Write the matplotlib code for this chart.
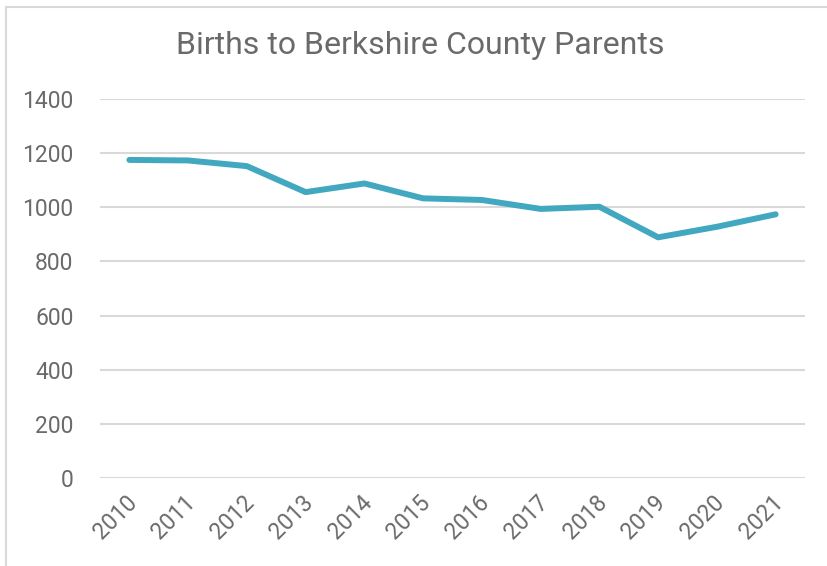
import matplotlib
matplotlib.use('Agg')
import matplotlib.pyplot as plt
from matplotlib.patches import Rectangle

# data
years = ['2010', '2011', '2012', '2013', '2014', '2015',
         '2016', '2017', '2018', '2019', '2020', '2021']
births = [1175, 1173, 1152, 1056, 1088, 1033, 1027, 994, 1002, 889, 928, 974]

plt.rcParams['font.family'] = ['Roboto', 'DejaVu Sans']
txt = '#6a6a6a'
grid = '#d9d9d9'

fig = plt.figure(figsize=(8.27, 5.66), dpi=100)
ax = fig.add_axes([100 / 827, 1 - 478 / 566, 705 / 827, 379 / 566])

x = list(range(len(years)))
ax.plot(x, births, color='#41a8c0', lw=4.3, solid_capstyle='round',
        solid_joinstyle='round', zorder=3)

ax.set_xlim(-0.5, len(years) - 0.5)
ax.set_ylim(0, 1400)
ax.set_yticks(range(0, 1401, 200))
ax.yaxis.grid(True, color=grid, lw=1.5)
ax.set_axisbelow(True)
for s in ax.spines.values():
    s.set_visible(False)

ax.set_xticks(x)
ax.set_xticklabels(years, rotation=45, ha='right', va='center',
                   rotation_mode='anchor')
ax.tick_params(axis='x', length=0, pad=15, labelsize=16.5, labelcolor=txt)
ax.tick_params(axis='y', length=0, pad=19, labelsize=16.5, labelcolor=txt)
for lab in ax.get_xticklabels():
    # nudge to the right a bit, like the reference
    lab.set_transform(lab.get_transform() +
                      matplotlib.transforms.ScaledTranslation(4 / 100, 0, fig.dpi_scale_trans))

fig.text(420 / 827, 1 - 46 / 566, 'Births to Berkshire County Parents',
         ha='center', va='center', fontsize=23, color=txt)

# light frame around the chart (right and bottom edges fall outside the image)
fig.patches.append(Rectangle((6 / 827, -0.1), 1.2, 1.1 - 7 / 566,
                             transform=fig.transFigure, fill=False,
                             ec=grid, lw=1.5))

fig.savefig('out.png', dpi=100)
